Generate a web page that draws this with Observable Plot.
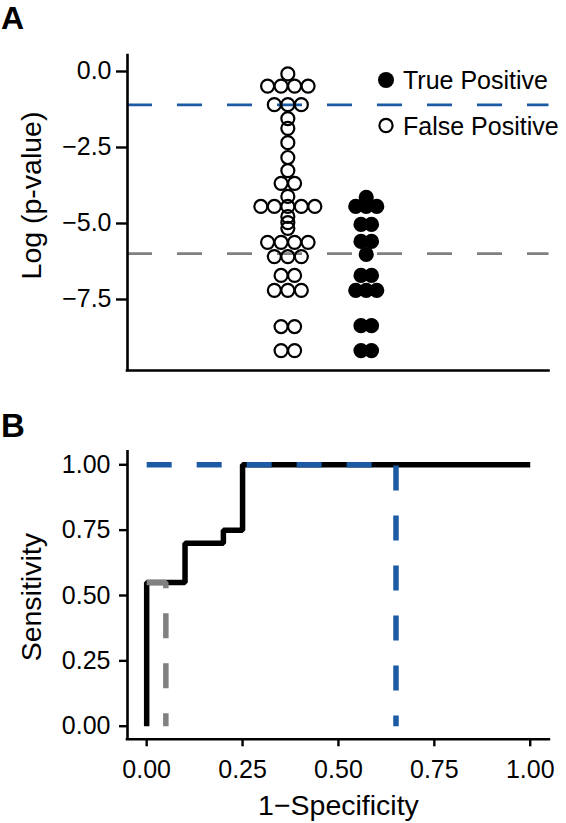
<!DOCTYPE html>
<html>
<head>
<meta charset="utf-8">
<script src="https://cdn.jsdelivr.net/npm/d3@7"></script>
<script src="https://cdn.jsdelivr.net/npm/@observablehq/plot@0.6"></script>
<style>
  html, body { margin: 0; padding: 0; background: #fff; }
  #fig { position: relative; width: 566px; height: 823px; font-family: "Liberation Sans", Arial, sans-serif; color: #000; overflow: hidden; }
  .panel { position: absolute; left: 0; }
  #overlay { position: absolute; left: 0; top: 0; pointer-events: none; }
</style>
</head>
<body>
<div id="fig">
  <div id="panelA" class="panel" style="top:0px"></div>
  <div id="panelB" class="panel" style="top:380px"></div>
  <svg id="overlay" width="566" height="823" font-family="Liberation Sans, Arial, sans-serif">
    <text x="1" y="29" font-weight="bold" font-size="32">A</text>
    <text x="1" y="437" font-weight="bold" font-size="33">B</text>
    <g id="legend"></g>
  </svg>
</div>
<script>
// ---------- Panel A data ----------
const groupsA = ["False Positive", "True Positive"];
const fpLogP = [-0.08, -0.48, -0.48, -0.48, -0.48, -1.09, -1.09, -1.09, -1.55, -1.87, -2.34, -2.83, -3.26,
  -3.68, -3.68, -4.11, -4.44, -4.44, -4.44, -4.44, -4.44, -4.77, -4.97, -5.16, -5.62, -5.62, -5.62, -5.62,
  -6.09, -6.09, -6.09, -6.71, -6.71, -7.20, -7.20, -7.20, -8.39, -8.39, -9.18, -9.18];
const tpLogP = [-4.14, -4.44, -4.44, -4.44, -5.03, -5.03, -5.59, -5.59, -6.02, -6.71, -6.71,
  -7.20, -7.20, -7.20, -8.36, -8.36, -9.18, -9.18];
const yTicksA = [0, -2.5, -5, -7.5];
const cutoffsA = [-1.0986, -5.99];          // blue, gray thresholds
const cutColors = ["#1c5aa3", "#808080"];

// ---------- Panel B data ----------
const rocFpr = [0, 0, 0.10, 0.10, 0.20, 0.20, 0.25, 0.25, 1.00];
const rocTpr = [0, 0.55, 0.55, 0.70, 0.70, 0.75, 0.75, 1.00, 1.00];
const grayFpr = [0, 0.05, 0.05];
const grayTpr = [0.55, 0.55, 0];
const blueFpr = [0, 0.65, 0.65];
const blueTpr = [1, 1, 0];
const ticksB = [0, 0.25, 0.5, 0.75, 1];

const legendLabels = ["True Positive", "False Positive"];

// ---------- helpers ----------
const font = "Liberation Sans, Arial, sans-serif";
const xDomainA = [-2.045, 3.331];
const mL = 127, mRA = 17.5;
const unitPx = (566 - mL - mRA) / (xDomainA[1] - xDomainA[0]);
const spacing = {0: 13.5, 1: 10.5};
function stackDots(values, gi) {
  const out = [];
  for (const [v, arr] of d3.group(values, d => d)) {
    const n = arr.length;
    arr.forEach((_, k) => out.push({group: groupsA[gi], logp: v, pos: gi + (k - (n - 1) / 2) * spacing[gi] / unitPx}));
  }
  return out;
}
const fpDots = stackDots(fpLogP, 0);
const tpDots = stackDots(tpLogP, 1);
const yDomA = [-9.836, 0.526];

const plotA = Plot.plot({
  width: 566, height: 380,
  marginTop: 55, marginBottom: 10, marginLeft: mL, marginRight: mRA,
  x: {domain: xDomainA, axis: null},
  y: {domain: yDomA},
  style: {fontFamily: font, color: "#000", background: "transparent", overflow: "visible"},
  marks: [
    Plot.ruleY([cutoffsA[0]], {stroke: cutColors[0], strokeWidth: 2.6, strokeDasharray: "25,25"}),
    Plot.ruleY([cutoffsA[1]], {stroke: cutColors[1], strokeWidth: 2.6, strokeDasharray: "25,25"}),
    Plot.dot(fpDots, {x: "pos", y: "logp", r: 6.5, stroke: "#000", strokeWidth: 2.2, fill: "none"}),
    Plot.dot(tpDots, {x: "pos", y: "logp", r: 6.5, stroke: "#000", strokeWidth: 2.2, fill: "#000"}),
    Plot.axisY(yTicksA, {tickSize: 11, tickPadding: 5, tickFormat: d3.format(".1f"), fontSize: 25, strokeWidth: 2.4, label: null}),
    Plot.ruleX([xDomainA[0]], {stroke: "#000", strokeWidth: 2.6, strokeLinecap: "square"}),
    Plot.ruleY([yDomA[0]], {stroke: "#000", strokeWidth: 2.6, strokeLinecap: "square"}),
    Plot.text(["Log (p-value)"], {text: d => d, frameAnchor: "left", textAnchor: "middle", rotate: -90, lineAnchor: "bottom", dx: -87, dy: -17.5, fontSize: 28.5, fill: "#000"})
  ]
});
document.getElementById("panelA").appendChild(plotA);

const toPts = (xs, ys) => xs.map((f, i) => ({fpr: f, tpr: ys[i]}));
const plotB = Plot.plot({
  width: 566, height: 443,
  marginTop: 71.2, marginBottom: 84.2, marginLeft: mL, marginRight: 17.1,
  x: {domain: [-0.05, 1.05]},
  y: {domain: [-0.05, 1.05]},
  style: {fontFamily: font, color: "#000", background: "transparent", overflow: "visible"},
  marks: [
    Plot.axisX(ticksB, {tickSize: 7.5, tickPadding: 13, tickFormat: d3.format(".2f"), fontSize: 25, strokeWidth: 2.4, label: null}),
    Plot.axisY(ticksB, {tickSize: 8, tickPadding: 9, tickFormat: d3.format(".2f"), fontSize: 25, strokeWidth: 2.4, label: null}),
    Plot.ruleX([-0.05], {stroke: "#000", strokeWidth: 2.6, strokeLinecap: "square"}),
    Plot.ruleY([-0.05], {stroke: "#000", strokeWidth: 2.6, strokeLinecap: "square"}),
    Plot.line(toPts(rocFpr, rocTpr), {x: "fpr", y: "tpr", stroke: "#000", strokeWidth: 5.5, strokeLinejoin: "miter", strokeLinecap: "butt"}),
    Plot.line(toPts(grayFpr, grayTpr), {x: "fpr", y: "tpr", stroke: cutColors[1], strokeWidth: 5.5, strokeDasharray: "25,25", strokeLinejoin: "miter", strokeLinecap: "butt"}),
    Plot.line(toPts(blueFpr, blueTpr), {x: "fpr", y: "tpr", stroke: cutColors[0], strokeWidth: 5.5, strokeDasharray: "25,25", strokeLinejoin: "miter", strokeLinecap: "butt"}),
    Plot.text(["Sensitivity"], {text: d => d, frameAnchor: "left", textAnchor: "middle", rotate: -90, lineAnchor: "bottom", dx: -87, dy: 1.7, fontSize: 28.5, fill: "#000"}),
    Plot.text(["1−Specificity"], {text: d => d, frameAnchor: "bottom", textAnchor: "middle", lineAnchor: "bottom", dy: 76, fontSize: 28.5, fill: "#000"})
  ]
});
document.getElementById("panelB").appendChild(plotB);

// legend (inside panel A, top right)
const lg = d3.select("#legend");
const legendY = [80, 125.5];
lg.append("circle").attr("cx", 386).attr("cy", legendY[0]).attr("r", 8).attr("fill", "#000");
lg.append("circle").attr("cx", 386).attr("cy", legendY[1]).attr("r", 6.6).attr("fill", "none").attr("stroke", "#000").attr("stroke-width", 2.2);
legendLabels.forEach((t, i) => {
  lg.append("text").attr("x", 403).attr("y", legendY[i] + 9).attr("font-size", 25).attr("fill", "#000").text(t);
});
</script>
</body>
</html>
